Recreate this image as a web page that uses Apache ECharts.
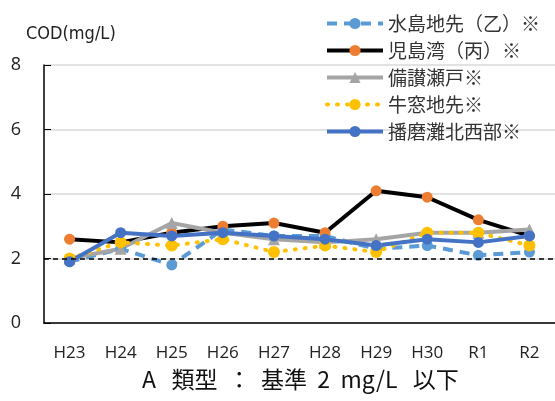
<!DOCTYPE html>
<html><head><meta charset="utf-8">
<script src="https://cdn.jsdelivr.net/npm/echarts@6/dist/echarts.min.js"></script>
<style>html,body{margin:0;padding:0;background:#fff}#c{width:555px;height:401px}</style>
</head><body><div id="c"></div>
<script>
const categories = ['H23','H24','H25','H26','H27','H28','H29','H30','R1','R2'];
const mizushima = [1.9, 2.3, 1.8, 2.9, 2.7, 2.7, 2.3, 2.4, 2.1, 2.2];
const kojima    = [2.6, 2.5, 2.8, 3.0, 3.1, 2.8, 4.1, 3.9, 3.2, 2.7];
const bisan     = [2.0, 2.3, 3.1, 2.8, 2.6, 2.5, 2.6, 2.8, 2.8, 2.9];
const ushimado  = [2.0, 2.5, 2.4, 2.6, 2.2, 2.4, 2.2, 2.8, 2.8, 2.4];
const harima    = [1.9, 2.8, 2.7, 2.8, 2.7, 2.6, 2.4, 2.6, 2.5, 2.7];
const seriesNames = ['水島地先（乙）※','児島湾（丙）※','備讃瀬戸※','牛窓地先※','播磨灘北西部※'];
const standard = 2;
const yTicks = {min:0, max:8, interval:2};

const jp = '"Noto Sans CJK JP", "Noto Sans", sans-serif';
const chart = echarts.init(document.getElementById('c'));
chart.setOption({
  animation:false,
  title:[
    {text:'COD(mg/L)', left:21, top:20, textStyle:{fontFamily:'"Liberation Sans Narrow", "DejaVu Sans Condensed", sans-serif', fontSize:18, fontWeight:'normal', color:'#222'}},
    {text:'A   類型  ：  基準  2  mg/L   以下', left:142, top:368, textStyle:{fontFamily:jp, fontSize:23, fontWeight:'normal', color:'#111'}, padding:0}
  ],
  legend:{
    orient:'vertical', left:320, top:9, itemWidth:56, itemHeight:14, itemGap:8,
    textStyle:{fontFamily:jp, fontSize:19, color:'#333'},
    lineStyle:{width:4},
    data:seriesNames
  },
  grid:{left:44, right:0, top:65, bottom:78},
  xAxis:{
    type:'category', data:categories, boundaryGap:true,
    axisLine:{lineStyle:{color:'#000', width:1.5}},
    axisTick:{inside:true, length:5, lineStyle:{color:'#000'}},
    axisLabel:{fontFamily:'"Open Sans", sans-serif', fontSize:17, color:'#222', margin:22}
  },
  yAxis:{
    type:'value', min:yTicks.min, max:yTicks.max, interval:yTicks.interval,
    axisLine:{show:true, lineStyle:{color:'#000', width:1.5}},
    axisTick:{show:true, inside:true, length:7, lineStyle:{color:'#000'}},
    splitLine:{lineStyle:{color:'#d9d9d9', width:1.5}},
    axisLabel:{fontFamily:'"Open Sans", sans-serif', fontSize:18, color:'#222', margin:23}
  },
  series:[
    {name:seriesNames[0], type:'line', data:mizushima, symbol:'circle', symbolSize:11,
     lineStyle:{color:'#5B9BD5', width:4, type:[10,7]}, itemStyle:{color:'#5B9BD5'},
     markLine:{silent:true, symbol:'none', label:{show:false},
       lineStyle:{color:'#000', type:[5,4], width:1.5}, data:[{yAxis:standard}]}},
    {name:seriesNames[1], type:'line', data:kojima, symbol:'circle', symbolSize:11,
     lineStyle:{color:'#000', width:4}, itemStyle:{color:'#ED7D31'}},
    {name:seriesNames[2], type:'line', data:bisan, symbol:'triangle', symbolSize:12,
     lineStyle:{color:'#A5A5A5', width:4}, itemStyle:{color:'#A5A5A5'}},
    {name:seriesNames[3], type:'line', data:ushimado, symbol:'circle', symbolSize:12,
     lineStyle:{color:'#FFC000', width:4, type:[1,9], cap:'round'}, itemStyle:{color:'#FFC000'}},
    {name:seriesNames[4], type:'line', data:harima, symbol:'circle', symbolSize:11,
     lineStyle:{color:'#4472C4', width:4}, itemStyle:{color:'#4472C4'}}
  ]
});
</script></body></html>
